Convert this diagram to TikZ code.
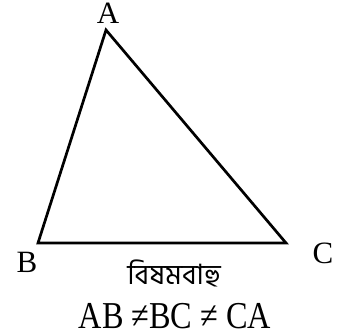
\documentclass[tikz,border=0pt]{standalone}
\usepackage{fontspec}
\setmainfont{Liberation Serif}
\newfontfamily\bengfont[Script=Bengali]{Hind Siliguri}
\usepackage{tikz}
\usetikzlibrary{calc, positioning}

\begin{document}
\begin{tikzpicture}[x=1pt, y=-1pt,
  vlabel/.style={font=\fontsize{31}{33}\selectfont, inner sep=0pt},
  side/.style={line width=2.7pt, line join=miter}]
  \useasboundingbox (0,0) rectangle (338,336);
  \coordinate (A) at (106,30);
  \coordinate (B) at (38,243);
  \coordinate (C) at (286,243);
  \draw[side] (A) -- (B) -- (C) -- cycle;
  \node[vlabel] (labA) at (108,13) {A};
  \node[vlabel] (labB) at (27,262) {B};
  \node[vlabel] (labC) at (323,253) {C};
  \node[font=\bengfont\fontsize{28}{30}\selectfont, inner sep=0pt] (name) at (174,273) {বিষমবাহু};
  \node[font=\fontsize{38}{40}\selectfont, inner sep=0pt, xscale=0.85] (rel) at (175,316) {AB ≠BC ≠ CA};
\end{tikzpicture}
\end{document}
